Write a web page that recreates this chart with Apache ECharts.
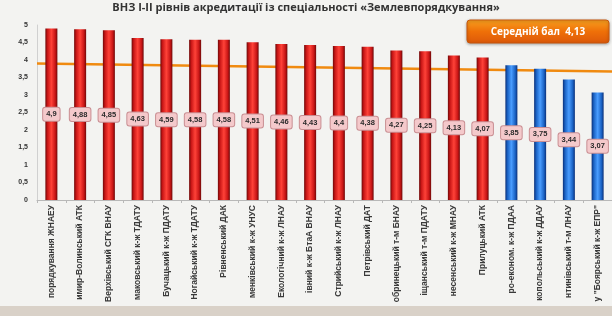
<!DOCTYPE html>
<html>
<head>
<meta charset="utf-8">
<script src="https://cdn.jsdelivr.net/npm/echarts@6/dist/echarts.min.js"></script>
<style>
  html, body { margin: 0; padding: 0; background: #f3f3f1; }
  #chart { width: 612px; height: 316px; }
</style>
</head>
<body>
<div id="chart"></div>
<script>
// назви закладів (як видно на знімку, обрізані знизу)
const categories = [
    'порядкування ЖНАЕУ', 'имир-Волинський АТК', 'Верхівський СГК ВНАУ', 'маковський к-ж ТДАТУ',
    'Бучацький к-ж ПДАТУ', 'Ногайський к-ж ТДАТУ', 'Рівненський ДАК', 'менківський к-ж УНУС',
    'Екологічний к-ж ЛНАУ', 'івний к-ж БтаА ВНАУ', 'Стрийський к-ж ЛНАУ', 'Петрівський ДАТ',
    'обринецький т-м БНАУ', 'іщанський т-м ПДАТУ', 'несенський к-ж МНАУ', 'Прилуцький АТК',
    'ро-економ. к-ж ПДАА', 'копольський к-ж ДДАУ', 'нтинівський т-м ЛНАУ', 'у "Боярський к-ж ЕПР"'
];
const scores = [4.9, 4.88, 4.85, 4.63, 4.59, 4.58, 4.58, 4.51, 4.46, 4.43,
                4.4, 4.38, 4.27, 4.25, 4.13, 4.07, 3.85, 3.75, 3.44, 3.07];
const aboveMean = 16; // перші 16 — червоні, решта — сині
const meanLine = [3.9, 3.67]; // лінія середнього балу (ліворуч / праворуч, як на фото)
const yTicks = [0, 0.5, 1, 1.5, 2, 2.5, 3, 3.5, 4, 4.5, 5];

const redGrad = new echarts.graphic.LinearGradient(0, 0, 1, 0, [
    { offset: 0, color: '#6e0808' }, { offset: 0.18, color: '#c91616' },
    { offset: 0.5, color: '#ff4238' }, { offset: 0.82, color: '#c91616' },
    { offset: 1, color: '#6e0808' }
]);
const blueGrad = new echarts.graphic.LinearGradient(0, 0, 1, 0, [
    { offset: 0, color: '#0a2f78' }, { offset: 0.18, color: '#1a62c4' },
    { offset: 0.5, color: '#4a9dff' }, { offset: 0.82, color: '#1a62c4' },
    { offset: 1, color: '#0a2f78' }
]);

const chart = echarts.init(document.getElementById('chart'));
chart.setOption({
    backgroundColor: '#f3f3f1',
    animation: false,
    title: {
        text: 'ВНЗ І-ІІ рівнів акредитації із спеціальності «Землевпорядкування»',
        left: 'center', top: -3,
        textStyle: { fontSize: 11, fontWeight: 'bold', color: '#333', fontFamily: 'Open Sans' }
    },
    grid: { left: 37, top: 25, width: 577, height: 175 },
    xAxis: [{
        type: 'category',
        data: categories,
        axisLine: { lineStyle: { color: '#b8b8b8' } },
        axisTick: { show: true, length: 3, lineStyle: { color: '#b8b8b8' } },
        axisLabel: {
            interval: 0, rotate: 90, margin: 5,
            fontSize: 8.5, fontWeight: 'bold', color: '#3a3a3a',
            fontFamily: 'Liberation Sans Narrow, Arial Narrow, sans-serif'
        }
    }, {
        type: 'value', min: 0, max: 1, show: false
    }],
    yAxis: {
        type: 'value', min: 0, max: 5, interval: 0.5,
        axisLine: { show: true, lineStyle: { color: '#d0d0d0' } },
        axisTick: { show: false },
        splitLine: { show: false },
        axisLabel: {
            margin: 9, fontSize: 7, fontWeight: 'bold', color: '#333',
            customValues: yTicks,
            formatter: v => String(v).replace('.', ',')
        }
    },
    series: [{
        type: 'bar',
        barWidth: 12,
        data: scores.map((v, i) => ({
            value: v,
            itemStyle: { color: i < aboveMean ? redGrad : blueGrad }
        })),
        label: {
            show: true, position: 'inside',
            formatter: p => String(p.value).replace('.', ','),
            fontSize: 7.5, fontWeight: 'bold', color: '#2a2a2a',
            backgroundColor: '#f4c9cb', borderColor: '#c98e92', borderWidth: 1,
            borderRadius: 2, padding: [3, 3, 2, 3]
        },
        z: 2
    }, {
        type: 'line',
        xAxisIndex: 1,
        data: [[0, meanLine[0]], [1, meanLine[1]]],
        symbol: 'none',
        lineStyle: { color: '#f08a10', width: 2.5 },
        z: 1
    }],
    graphic: [{
        type: 'rect',
        shape: { x: 467, y: 20, width: 142, height: 23, r: 3 },
        style: {
            fill: new echarts.graphic.LinearGradient(0, 0, 0, 1, [
                { offset: 0, color: '#f7a020' }, { offset: 0.5, color: '#ef7008' },
                { offset: 1, color: '#dc580a' }
            ]),
            stroke: '#c8560c', lineWidth: 1,
            shadowBlur: 3, shadowColor: 'rgba(0,0,0,0.3)', shadowOffsetY: 1
        },
        z: 10
    }, {
        type: 'text',
        x: 538, y: 32,
        style: {
            text: 'Середній бал  4,13', fill: '#fff',
            font: 'bold 10px "Open Sans", sans-serif',
            align: 'center', verticalAlign: 'middle'
        },
        z: 11
    }, {
        type: 'rect',
        shape: { x: 0, y: 306, width: 612, height: 10 },
        style: { fill: '#d9d1c8' },
        z: 12
    }]
});
</script>
</body>
</html>
